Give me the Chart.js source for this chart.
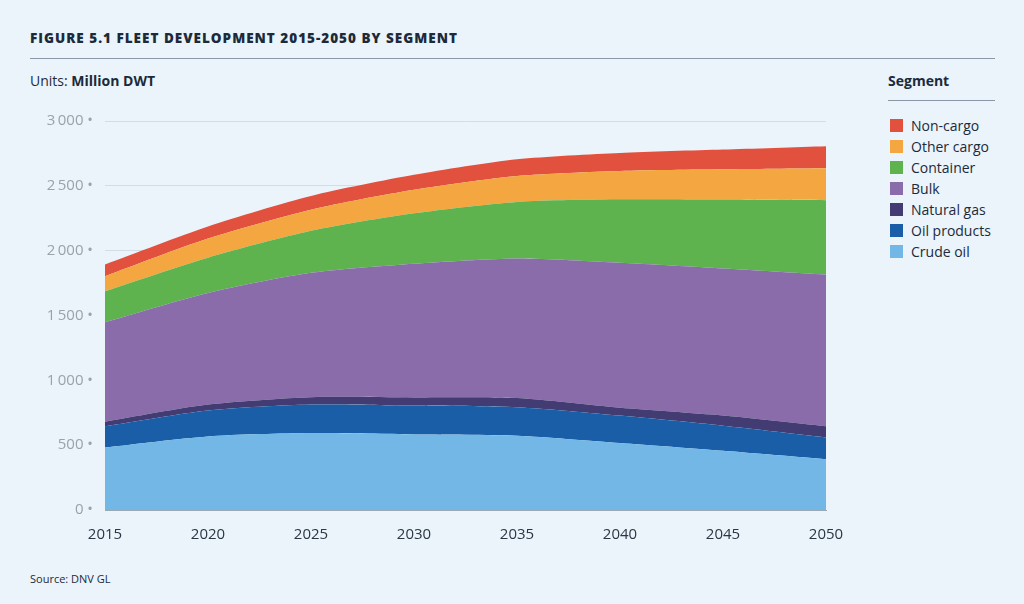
<!DOCTYPE html>
<html><head><meta charset="utf-8">
<script src="https://cdn.jsdelivr.net/npm/chart.js@4"></script>
<style>
body{margin:0;width:1024px;height:604px;background:#eaf4fa;font-family:"Open Sans","Noto Sans",sans-serif;position:relative;overflow:hidden;color:#1c2a3a}
#title{position:absolute;left:30px;top:29px;font-weight:800;font-size:13.5px;letter-spacing:1px}
#rule{position:absolute;left:30px;top:58px;width:965px;border-top:1px solid #8a98a6}
#units{position:absolute;left:30px;top:71px;font-size:14px}
#src{position:absolute;left:30px;top:571px;font-size:11px}
#legT{position:absolute;left:888px;top:71px;font-size:14px;font-weight:700}
#legR{position:absolute;left:888px;top:100px;width:107px;border-top:1px solid #8a98a6}
#leg{position:absolute;left:890px;top:115px;font-size:14px}
#leg div{height:21px;display:flex;align-items:center}
#leg span.b{display:inline-block;width:13px;height:13px;margin-right:8px}
#wrap{position:absolute;left:0;top:100px;width:860px;height:460px}
</style></head><body>
<div id="title">FIGURE 5.1 FLEET DEVELOPMENT 2015-2050 BY SEGMENT</div>
<div id="rule"></div>
<div id="units">Units: <b>Million DWT</b></div>
<div id="legT">Segment</div><div id="legR"></div>
<div id="leg"></div>
<div id="wrap"><canvas id="c"></canvas></div>
<div id="src">Source: DNV GL</div>
<script>
const years=["2015","2020","2025","2030","2035","2040","2045","2050"];
const crudeOil=[482,567,593,583,573,516,456,391];
const oilProducts=[163,200,220,223,220,212,194,169];
const naturalGas=[36,46,57,62,70,60,78,85];
const bulk=[767,861,959,1031,1077,1119,1135,1171];
const container=[239,272,324,389,436,489,531,573];
const otherCargo=[116,147,163,181,199,218,233,246];
const nonCargo=[91,94,106,116,130,140,153,171];
const yTicks=[0,500,1000,1500,2000,2500,3000];
const series=[
 ["Crude oil",crudeOil,"#72b7e6"],
 ["Oil products",oilProducts,"#1b5ea8"],
 ["Natural gas",naturalGas,"#433c72"],
 ["Bulk",bulk,"#8a6cab"],
 ["Container",container,"#5fb34f"],
 ["Other cargo",otherCargo,"#f4a640"],
 ["Non-cargo",nonCargo,"#e2503e"]];
const leg=document.getElementById('leg');
series.slice().reverse().forEach(s=>{const d=document.createElement('div');d.innerHTML='<span class="b" style="background:'+s[2]+'"></span>'+s[0];leg.appendChild(d);});
new Chart(document.getElementById('c'),{type:'line',
data:{labels:years,datasets:series.map((s,i)=>({label:s[0],data:s[1],backgroundColor:s[2],borderWidth:0,pointRadius:0,fill:i===0?'origin':'-1',tension:0.25}))},
options:{responsive:true,maintainAspectRatio:false,animation:false,
layout:{padding:{left:10,top:16,right:34,bottom:0}},
plugins:{legend:{display:false},tooltip:{enabled:false}},
scales:{
x:{grid:{display:false},border:{color:'#9aa8b4'},ticks:{color:'#2a3644',font:{size:15,family:'Open Sans'},padding:8},afterFit:s=>{s.height=50}},
y:{stacked:true,min:0,max:3000,afterBuildTicks:s=>{s.ticks=yTicks.map(v=>({value:v}))},
 grid:{color:'#d3dde5',drawTicks:false},border:{display:false},
 ticks:{color:'#9aa3ab',font:{size:15,family:'Open Sans'},padding:12,callback:v=>(v>=1000?Math.floor(v/1000)+'\u2009'+String(v%1000).padStart(3,'0'):String(v))+' \u2022'},
 afterFit:s=>{s.width=95}}
}}});
</script></body></html>
